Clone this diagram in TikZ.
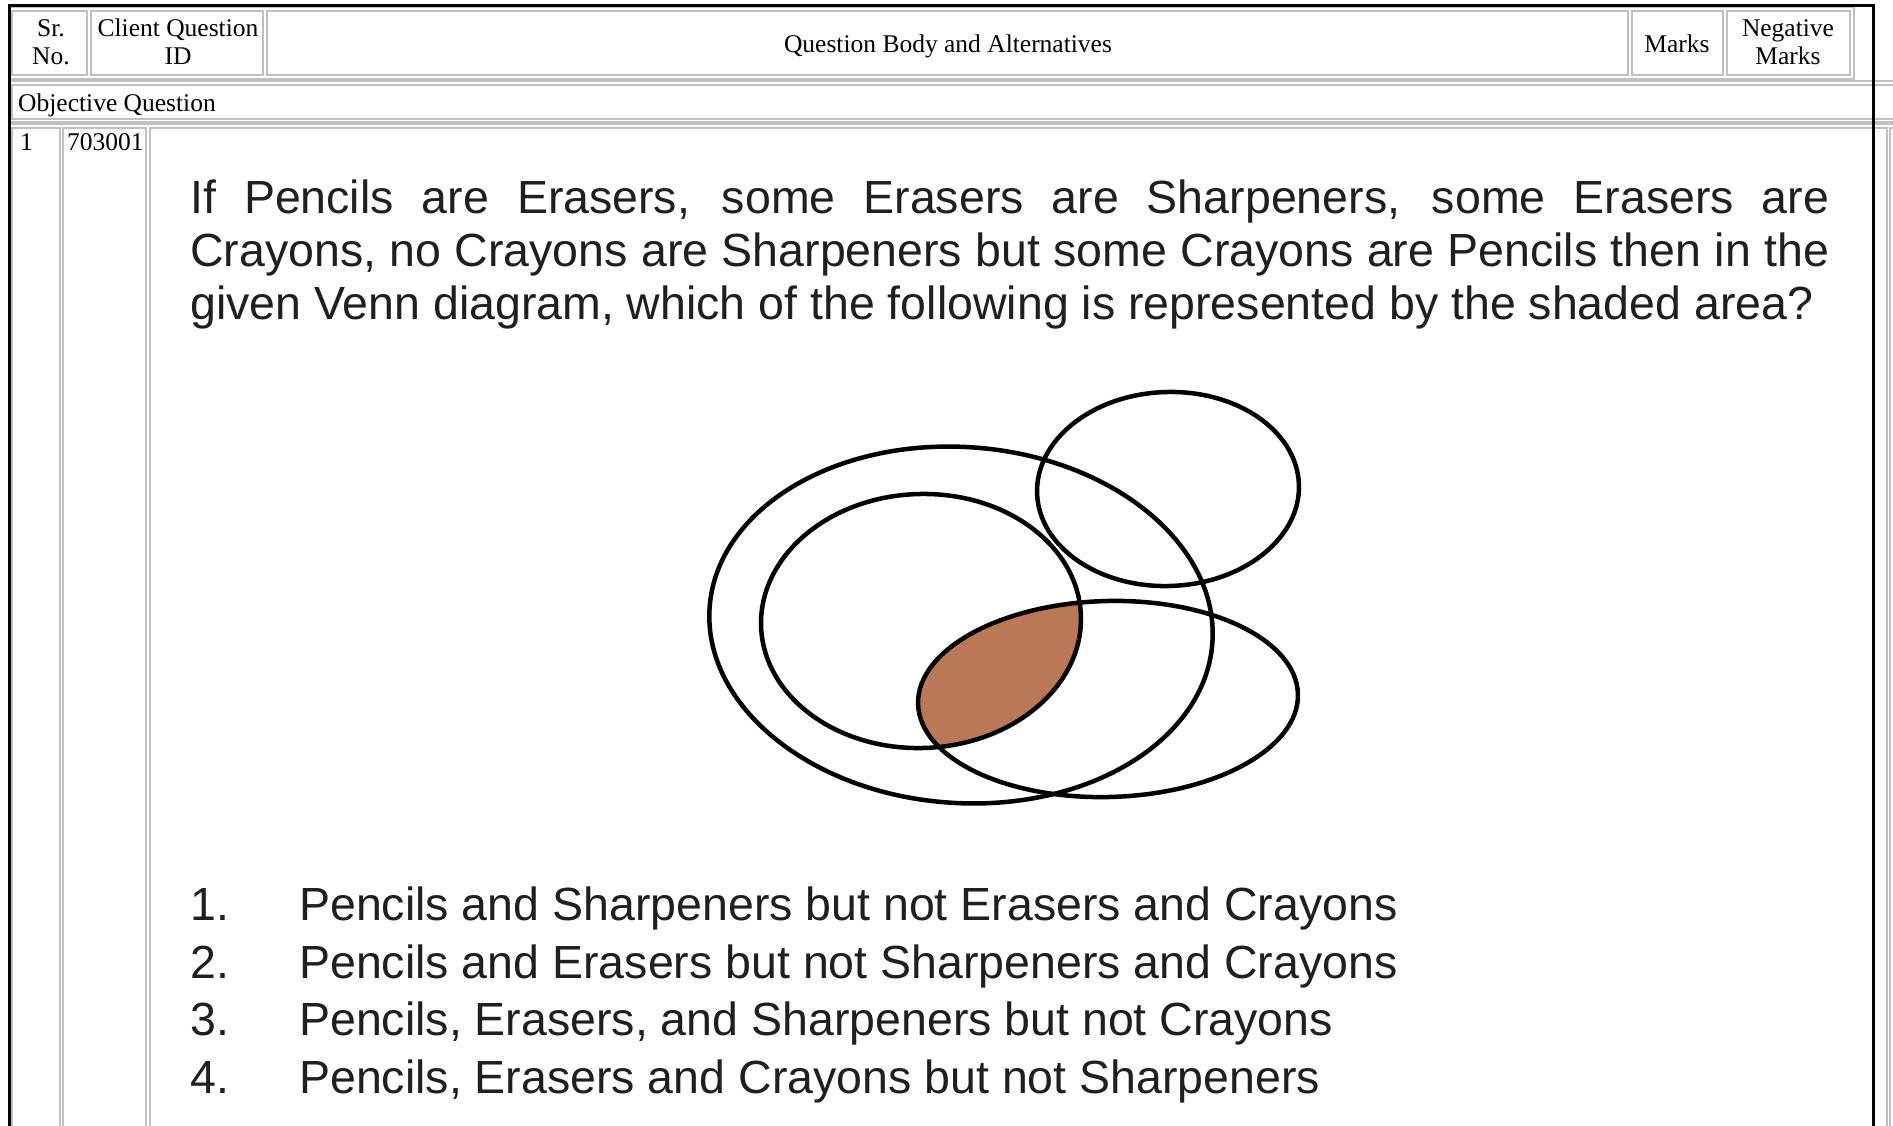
\documentclass[tikz,border=0pt]{standalone}
\usepackage{fontspec}
\setmainfont{Liberation Serif}
\newfontfamily\arialf{Liberation Sans}
\definecolor{venncol}{RGB}{186,120,86}
\definecolor{cellgray}{RGB}{192,192,192}
\tikzset{
  cellbox/.style={draw=cellgray, line width=1.6pt},
  hdrtxt/.style={inner sep=0pt, font=\fontsize{25.5}{29}\selectfont, align=center, text=black},
  qtext/.style={inner sep=0pt, anchor=base west, font=\arialf\fontsize{46.5}{53}\selectfont, text=black!88},
  vennline/.style={draw=black, line width=4.5pt},
}
\begin{document}
\begin{tikzpicture}[x=1pt, y=-1pt]
\useasboundingbox (0,0) rectangle (1893,1125);
\clip (0,0) rectangle (1893,1125);
\fill[white] (0,0) rectangle (1893,1125);

% header table
\draw[cellbox] (10,7) rectangle (1854,79);
\draw[cellbox] (12,11) rectangle (87,75);
\draw[cellbox] (91,11) rectangle (263,75);
\draw[cellbox] (267,11) rectangle (1628,75);
\draw[cellbox] (1632,11) rectangle (1723,75);
\draw[cellbox] (1727,11) rectangle (1850,75);

% objective question row
\draw[cellbox] (10,81) rectangle (1910,122);
\draw[cellbox] (12,85) rectangle (1905,119);

% row 1
\draw[cellbox] (10,124) rectangle (1910,1140);
\draw[cellbox] (12,128) rectangle (60,1140);
\draw[cellbox] (63,128) rectangle (146,1140);
\draw[cellbox] (150,128) rectangle (1887,1140);
\draw[cellbox] (1890,128) rectangle (1950,1140);

% black outer border
\draw[black, line width=3pt] (9,1140) -- (9,5) -- (1873,5) -- (1873,1140);

% header texts
\node[hdrtxt, anchor=base] (sr1) at (51,36) {Sr.};
\node[hdrtxt, anchor=base] (sr2) at (51,64) {No.};
\node[hdrtxt, anchor=base] (cq1) at (178,36) {Client Question};
\node[hdrtxt, anchor=base] (cq2) at (178,64) {ID};
\node[hdrtxt, anchor=base] (qb) at (948,52) {Question Body and Alternatives};
\node[hdrtxt, anchor=base] (mk) at (1677,52) {Marks};
\node[hdrtxt, anchor=base] (nm1) at (1788,36) {Negative};
\node[hdrtxt, anchor=base] (nm2) at (1788,64) {Marks};
\node[hdrtxt, anchor=base west] (obj) at (18,111) {Objective Question};
\node[hdrtxt, anchor=base west] (sno) at (20,150) {1};
\node[hdrtxt, anchor=base west] (qid) at (67,150) {703001};

% question text
\node[qtext] (q1) at (190,213) {\makebox[1639pt][s]{If Pencils are Erasers, some Erasers are Sharpeners, some Erasers are}};
\node[qtext] (q2) at (190,266) {\makebox[1639pt][s]{Crayons, no Crayons are Sharpeners but some Crayons are Pencils then in the}};
\node[qtext] (q3) at (190,319) {given Venn diagram, which of the following is represented by the shaded area?};

% Venn diagram
\begin{scope}
  \clip[shift={(921,621)}, rotate=2] (0,0) ellipse [x radius=160pt, y radius=127pt];
  \fill[venncol, shift={(1108,699)}, rotate=1.5] (0,0) ellipse [x radius=190pt, y radius=98pt];
\end{scope}
\draw[vennline, shift={(961,625)}, rotate=-4] (0,0) ellipse [x radius=252pt, y radius=178pt];
\draw[vennline, shift={(921,621)}, rotate=2] (0,0) ellipse [x radius=160pt, y radius=127pt];
\draw[vennline, shift={(1168,489)}, rotate=2] (0,0) ellipse [x radius=131pt, y radius=97pt];
\draw[vennline, shift={(1108,699)}, rotate=1.5] (0,0) ellipse [x radius=190pt, y radius=98pt];

% options
\node[qtext] (n1) at (190,920) {1.};
\node[qtext] (o1) at (299,920) {Pencils and Sharpeners but not Erasers and Crayons};
\node[qtext] (n2) at (190,978) {2.};
\node[qtext] (o2) at (299,978) {Pencils and Erasers but not Sharpeners and Crayons};
\node[qtext] (n3) at (190,1035) {3.};
\node[qtext] (o3) at (299,1035) {Pencils, Erasers, and Sharpeners but not Crayons};
\node[qtext] (n4) at (190,1093) {4.};
\node[qtext] (o4) at (299,1093) {Pencils, Erasers and Crayons but not Sharpeners};
\end{tikzpicture}
\end{document}
